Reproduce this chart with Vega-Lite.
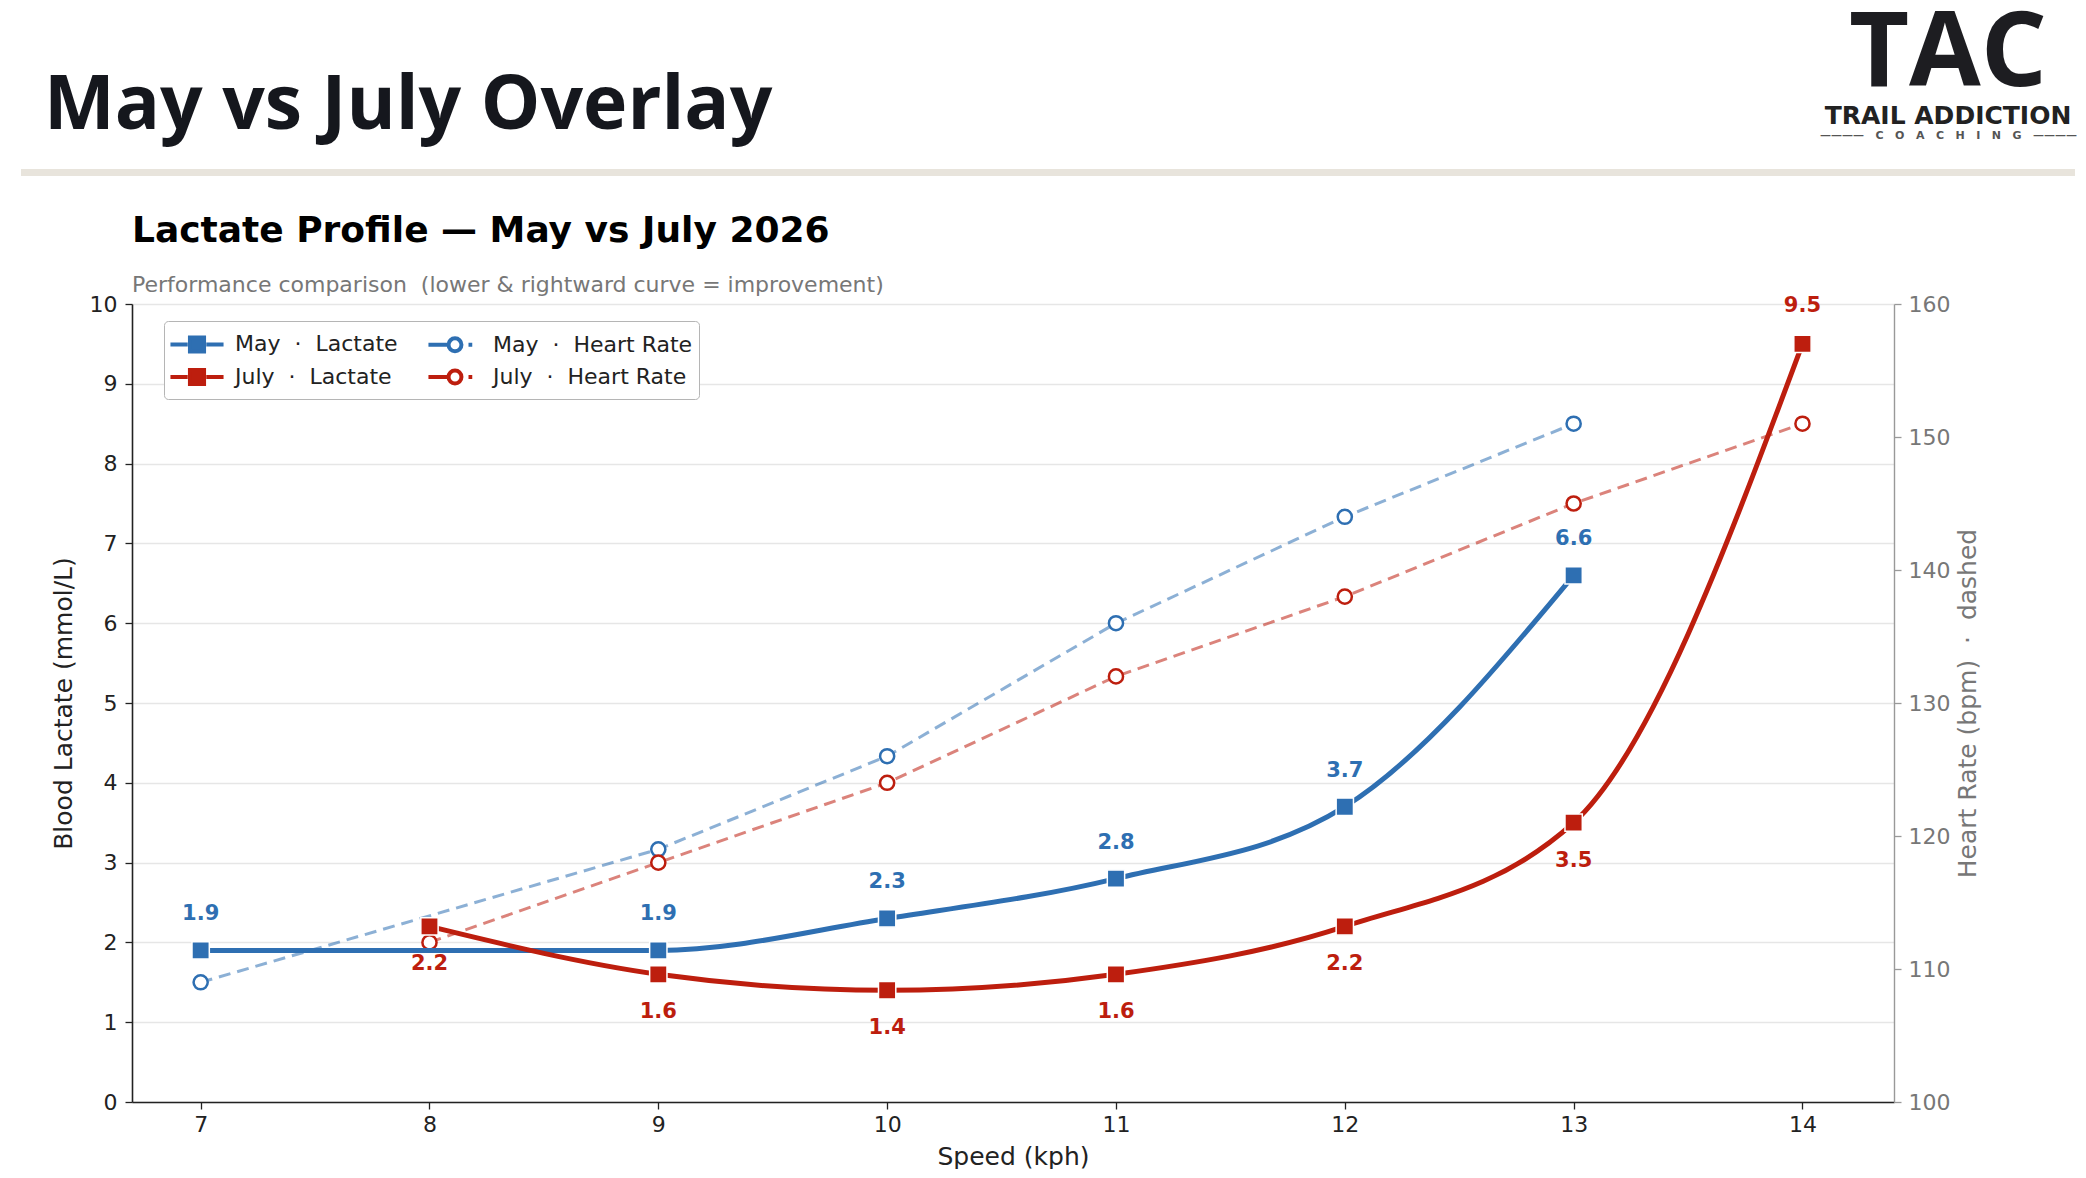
{
  "$schema": "https://vega.github.io/schema/vega-lite/v6.json",
  "background": "white",
  "padding": {"left": 21, "top": 3, "right": 0, "bottom": 0},
  "config": {"font": "DejaVu Sans", "view": {"stroke": null}},
  "datasets": {
    "lac": [
      {"speed": 7, "month": "May", "lactate": 1.9},
      {"speed": 9, "month": "May", "lactate": 1.9},
      {"speed": 10, "month": "May", "lactate": 2.3},
      {"speed": 11, "month": "May", "lactate": 2.8},
      {"speed": 12, "month": "May", "lactate": 3.7},
      {"speed": 13, "month": "May", "lactate": 6.6},
      {"speed": 8, "month": "July", "lactate": 2.2},
      {"speed": 9, "month": "July", "lactate": 1.6},
      {"speed": 10, "month": "July", "lactate": 1.4},
      {"speed": 11, "month": "July", "lactate": 1.6},
      {"speed": 12, "month": "July", "lactate": 2.2},
      {"speed": 13, "month": "July", "lactate": 3.5},
      {"speed": 14, "month": "July", "lactate": 9.5}
    ],
    "hr": [
      {"speed": 7, "month": "May", "hr": 109},
      {"speed": 9, "month": "May", "hr": 119},
      {"speed": 10, "month": "May", "hr": 126},
      {"speed": 11, "month": "May", "hr": 136},
      {"speed": 12, "month": "May", "hr": 144},
      {"speed": 13, "month": "May", "hr": 151},
      {"speed": 8, "month": "July", "hr": 112},
      {"speed": 9, "month": "July", "hr": 118},
      {"speed": 10, "month": "July", "hr": 124},
      {"speed": 11, "month": "July", "hr": 132},
      {"speed": 12, "month": "July", "hr": 138},
      {"speed": 13, "month": "July", "hr": 145},
      {"speed": 14, "month": "July", "hr": 151}
    ]
  },
  "spacing": 37,
  "vconcat": [
    {
      "bounds": "flush",
      "spacing": 0,
      "hconcat": [
        {
          "width": 1800,
          "height": 7,
          "view": {"fill": "#e8e4dc", "stroke": null},
          "title": {
            "text": "May vs July Overlay",
            "anchor": "start",
            "dx": 23,
            "offset": 24,
            "font": "Open Sans",
            "fontSize": 75,
            "fontWeight": "bold",
            "color": "#15171d"
          },
          "data": {"values": []},
          "mark": "point"
        },
        {
          "width": 254,
          "height": 7,
          "view": {"fill": "#e8e4dc", "stroke": null},
          "title": {
            "text": "TAC",
            "subtitle": "TRAIL ADDICTION",
            "anchor": "middle",
            "offset": -1,
            "font": "Open Sans",
            "fontSize": 104,
            "fontWeight": "bold",
            "color": "#1d1d21",
            "subtitleFont": "DejaVu Sans",
            "subtitleFontSize": 25,
            "subtitleFontWeight": "bold",
            "subtitleColor": "#222222",
            "subtitlePadding": -4
          },
          "data": {"values": []},
          "mark": "point",
          "encoding": {
            "x": {
              "field": "k",
              "type": "nominal",
              "axis": {
                "orient": "top",
                "labels": false,
                "ticks": false,
                "domain": false,
                "title": "————\u00a0\u00a0\u00a0C\u00a0\u00a0\u00a0O\u00a0\u00a0\u00a0A\u00a0\u00a0\u00a0C\u00a0\u00a0\u00a0H\u00a0\u00a0\u00a0I\u00a0\u00a0\u00a0N\u00a0\u00a0\u00a0G\u00a0\u00a0\u00a0————",
                "titleFont": "DejaVu Sans",
                "titleFontSize": 11,
                "titleFontWeight": "bold",
                "titleColor": "#555555",
                "titlePadding": 29
              }
            }
          }
        }
      ]
    },
    {
      "spacing": 0,
      "hconcat": [
        {
          "width": 30,
          "height": 10,
          "view": {"stroke": null},
          "data": {"values": []},
          "mark": "point"
        },
        {
          "width": 1762,
          "height": 798,
          "view": {"stroke": null},
          "title": {
            "text": "Lactate Profile — May vs July 2026",
            "subtitle": "Performance comparison\u00a0 (lower & rightward curve = improvement)",
            "anchor": "start",
            "frame": "group",
            "offset": -4,
            "font": "DejaVu Sans",
            "fontSize": 36,
            "fontWeight": "bold",
            "color": "#000000",
            "subtitleFont": "DejaVu Sans",
            "subtitleFontSize": 22,
            "subtitleColor": "#777777",
            "subtitlePadding": 25
          },
          "encoding": {
            "x": {
              "field": "speed",
              "type": "quantitative",
              "scale": {"domain": [6.7, 14.4], "nice": false, "zero": false},
              "axis": {
                "values": [7, 8, 9, 10, 11, 12, 13, 14],
                "grid": false,
                "domainColor": "#222222",
                "domainWidth": 1.6,
                "tickColor": "#222222",
                "tickSize": 7,
                "tickWidth": 1.3,
                "labelFont": "DejaVu Sans",
                "labelFontSize": 22,
                "labelColor": "#222222",
                "labelPadding": 5,
                "title": "Speed (kph)",
                "titleFont": "DejaVu Sans",
                "titleFontSize": 25,
                "titleFontWeight": "normal",
                "titleColor": "#222222",
                "titlePadding": 9
              }
            },
            "color": {
              "field": "month",
              "type": "nominal",
              "scale": {"domain": ["May", "July"], "range": ["#2e6fb2", "#bd1e0e"]},
              "legend": null
            }
          },
          "layer": [
            {
              "data": {"name": "hr"},
              "encoding": {
                "y": {
                  "field": "hr",
                  "type": "quantitative",
                  "scale": {"domain": [100, 160], "nice": false, "zero": false},
                  "axis": {
                    "orient": "right",
                    "values": [100, 110, 120, 130, 140, 150, 160],
                    "grid": false,
                    "domainColor": "#999999",
                    "domainWidth": 1.4,
                    "tickColor": "#999999",
                    "tickSize": 7,
                    "tickWidth": 1.3,
                    "labelFont": "DejaVu Sans",
                    "labelFontSize": 22,
                    "labelColor": "#777777",
                    "labelPadding": 7,
                    "title": "Heart Rate (bpm)\u00a0 ·\u00a0 dashed",
                    "titleAngle": 270,
                    "titleBaseline": "top",
                    "titleFont": "DejaVu Sans",
                    "titleFontSize": 25,
                    "titleFontWeight": "normal",
                    "titleColor": "#777777",
                    "titlePadding": 6
                  }
                }
              },
              "layer": [
                {
                  "mark": {"type": "line", "strokeDash": [12, 7], "strokeWidth": 3, "opacity": 0.55}
                },
                {
                  "mark": {"type": "point", "shape": "circle", "filled": false, "fill": "white", "size": 200, "strokeWidth": 2.5, "opacity": 1}
                }
              ]
            },
            {
              "data": {"name": "lac"},
              "encoding": {
                "y": {
                  "field": "lactate",
                  "type": "quantitative",
                  "scale": {"domain": [0, 10], "nice": false},
                  "axis": {
                    "orient": "left",
                    "values": [0, 1, 2, 3, 4, 5, 6, 7, 8, 9, 10],
                    "grid": true,
                    "gridColor": "#e6e6e6",
                    "gridWidth": 1.3,
                    "domainColor": "#222222",
                    "domainWidth": 1.6,
                    "tickColor": "#222222",
                    "tickSize": 7,
                    "tickWidth": 1.3,
                    "labelFont": "DejaVu Sans",
                    "labelFontSize": 22,
                    "labelColor": "#222222",
                    "labelPadding": 8,
                    "title": "Blood Lactate (mmol/L)",
                    "titleFont": "DejaVu Sans",
                    "titleFontSize": 25,
                    "titleFontWeight": "normal",
                    "titleColor": "#222222",
                    "titlePadding": 13
                  }
                }
              },
              "layer": [
                {
                  "mark": {"type": "line", "interpolate": "monotone", "strokeWidth": 5}
                },
                {
                  "mark": {"type": "point", "shape": "square", "filled": true, "size": 300, "stroke": "white", "strokeWidth": 1.5, "opacity": 1}
                },
                {
                  "transform": [{"filter": "datum.month == 'May'"}],
                  "mark": {"type": "text", "font": "DejaVu Sans", "fontSize": 21, "fontWeight": "bold", "baseline": "middle", "dy": -36},
                  "encoding": {"text": {"field": "lactate", "type": "quantitative", "format": ".1f"}}
                },
                {
                  "transform": [{"filter": "datum.month == 'July' && datum.speed < 14"}],
                  "mark": {"type": "text", "font": "DejaVu Sans", "fontSize": 21, "fontWeight": "bold", "baseline": "middle", "dy": 38},
                  "encoding": {"text": {"field": "lactate", "type": "quantitative", "format": ".1f"}}
                },
                {
                  "transform": [{"filter": "datum.month == 'July' && datum.speed >= 14"}],
                  "mark": {"type": "text", "font": "DejaVu Sans", "fontSize": 21, "fontWeight": "bold", "baseline": "middle", "dy": -38},
                  "encoding": {"text": {"field": "lactate", "type": "quantitative", "format": ".1f"}}
                },
                {
                  "data": {"values": []},
                  "mark": {"type": "point", "opacity": 1},
                  "encoding": {
                    "shape": {
                      "field": "series",
                      "type": "nominal",
                      "scale": {
                        "domain": ["May\u00a0 ·\u00a0 Lactate", "July\u00a0 ·\u00a0 Lactate", "May\u00a0 ·\u00a0 Heart Rate", "July\u00a0 ·\u00a0 Heart Rate"],
                        "range": [
                          "M-1.77,0H-0.62M0.62,0H1.77M-0.47,-0.47H0.47V0.47H-0.47Z",
                          "M-1.77,0H-0.62M0.62,0H1.77M-0.47,-0.47H0.47V0.47H-0.47Z",
                          "M-1.77,0H-0.43M0.9,0H1.15M-0.43,0A0.43,0.43 0 1,1 0.43,0A0.43,0.43 0 1,1 -0.43,0Z",
                          "M-1.77,0H-0.43M0.9,0H1.15M-0.43,0A0.43,0.43 0 1,1 0.43,0A0.43,0.43 0 1,1 -0.43,0Z"
                        ]
                      },
                      "legend": {
                        "title": null,
                        "orient": "none",
                        "legendX": 143,
                        "legendY": 152,
                        "columns": 2,
                        "gridAlign": "each",
                        "columnPadding": 22,
                        "rowPadding": 0,
                        "padding": 6,
                        "strokeColor": "#b5b5b5",
                        "fillColor": "white",
                        "cornerRadius": 4,
                        "symbolSize": 900,
                        "symbolStrokeWidth": 4,
                        "symbolOffset": 10,
                        "labelOffset": 21,
                        "labelFont": "DejaVu Sans",
                        "labelFontSize": 22,
                        "labelColor": "#222222",
                        "labelLimit": 400
                      }
                    },
                    "fill": {
                      "field": "series",
                      "type": "nominal",
                      "scale": {
                        "domain": ["May\u00a0 ·\u00a0 Lactate", "July\u00a0 ·\u00a0 Lactate", "May\u00a0 ·\u00a0 Heart Rate", "July\u00a0 ·\u00a0 Heart Rate"],
                        "range": ["#2e6fb2", "#bd1e0e", "white", "white"]
                      },
                      "legend": {
                        "title": null,
                        "orient": "none",
                        "legendX": 143,
                        "legendY": 152,
                        "columns": 2,
                        "gridAlign": "each",
                        "columnPadding": 22,
                        "rowPadding": 0,
                        "padding": 6,
                        "strokeColor": "#b5b5b5",
                        "fillColor": "white",
                        "cornerRadius": 4,
                        "symbolSize": 900,
                        "symbolStrokeWidth": 4,
                        "symbolOffset": 10,
                        "labelOffset": 21,
                        "labelFont": "DejaVu Sans",
                        "labelFontSize": 22,
                        "labelColor": "#222222",
                        "labelLimit": 400
                      }
                    },
                    "stroke": {
                      "field": "series",
                      "type": "nominal",
                      "scale": {
                        "domain": ["May\u00a0 ·\u00a0 Lactate", "July\u00a0 ·\u00a0 Lactate", "May\u00a0 ·\u00a0 Heart Rate", "July\u00a0 ·\u00a0 Heart Rate"],
                        "range": ["#2e6fb2", "#bd1e0e", "#2e6fb2", "#bd1e0e"]
                      },
                      "legend": {
                        "title": null,
                        "orient": "none",
                        "legendX": 143,
                        "legendY": 152,
                        "columns": 2,
                        "gridAlign": "each",
                        "columnPadding": 22,
                        "rowPadding": 0,
                        "padding": 6,
                        "strokeColor": "#b5b5b5",
                        "fillColor": "white",
                        "cornerRadius": 4,
                        "symbolSize": 900,
                        "symbolStrokeWidth": 4,
                        "symbolOffset": 10,
                        "labelOffset": 21,
                        "labelFont": "DejaVu Sans",
                        "labelFontSize": 22,
                        "labelColor": "#222222",
                        "labelLimit": 400
                      }
                    }
                  }
                }
              ]
            }
          ],
          "resolve": {"scale": {"y": "independent"}}
        }
      ]
    }
  ]
}
